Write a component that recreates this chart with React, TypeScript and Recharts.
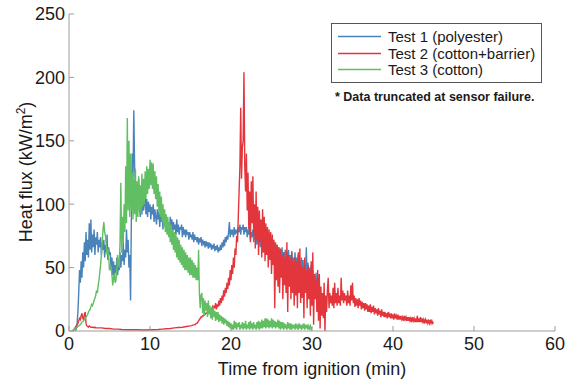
import React from 'react';
import { LineChart, Line, XAxis, YAxis, Legend } from 'recharts';

// ---------- data ----------
const xTicks = [0, 10, 20, 30, 40, 50, 60];
const yTicks = [0, 50, 100, 150, 200, 250];
const seriesNames = ['Test 1 (polyester)', 'Test 2 (cotton+barrier)', 'Test 3 (cotton)'];
const footnote = '* Data truncated at sensor failure.';
const xTitle = 'Time from ignition (min)';

// Test 1 (polyester): readings every 0.1 min from 0.8 min
const test1Start = 0.8;
const test1Step = 0.1;
const test1Values = [
  0, 2, 6, 15, 30, 48, 38, 55, 42, 62,
  50, 70, 55, 78, 60, 72, 58, 85, 64, 88,
  62, 76, 66, 80, 60, 74, 68, 78, 62, 72,
  66, 74, 60, 70, 64, 72, 58, 68, 62, 76,
  56, 66, 60, 62, 48, 58, 44, 55, 40, 52,
  46, 58, 44, 52, 48, 62, 50, 60, 55, 70,
  52, 64, 58, 80, 62, 72, 50, 60, 24, 90,
  140, 120, 174, 130, 110, 100, 95, 105, 120, 98,
  90, 104, 92, 106, 95, 100, 108, 92, 104, 90,
  102, 94, 100, 88, 98, 92, 100, 86, 96, 90,
  84, 96, 88, 94, 82, 92, 86, 94, 80, 90,
  84, 92, 80, 88, 82, 86, 78, 90, 80, 88,
  78, 86, 80, 84, 76, 88, 78, 84, 76, 82,
  80, 84, 74, 82, 76, 80, 74, 80, 76, 78,
  72, 78, 74, 76, 72, 78, 70, 76, 72, 74,
  70, 74, 68, 73, 70, 74, 67, 72, 69, 71,
  66, 71, 68, 70, 65, 70, 66, 69, 64, 68,
  65, 69, 63, 67, 64, 68, 62, 66, 63, 68,
  64, 70, 66, 72, 67, 74, 70, 75, 72, 78,
  86, 74, 80, 76, 80, 74, 82, 76, 80, 78,
  76, 82, 78, 84, 76, 82, 80, 84, 76, 82,
  78, 82, 74, 80, 76, 82, 72, 78, 74, 80,
  70, 78, 72, 76, 68, 76, 70, 74, 66, 74,
  68, 74, 62, 72, 64, 70, 60, 72, 62, 70,
  60, 70, 58, 68, 60, 70, 56, 66, 58, 68,
  55, 66, 58, 64, 54, 66, 56, 62, 52, 64,
  54, 62, 50, 64, 52, 60, 48, 63, 50, 58,
  46, 62, 48, 58, 44, 60, 46, 56, 42, 58,
  44, 56, 40, 52, 42, 66, 38, 54, 40, 50,
  36, 52, 34, 48, 30, 44, 32, 46, 28, 42,
];

// Test 2 (cotton+barrier)
const test2StartA = 0.4;
const test2StepA = 0.1;
const test2ValuesA = [
  0, 0.5, 1, 2, 3, 4, 5, 6, 8, 10,
  9, 12, 14, 10, 9, 13, 15, 6, 4, 3.5,
  3, 4, 3.5, 3, 3, 3, 3, 2.5, 3, 2.5,
];
const test2StartB = 3.5;
const test2StepB = 0.5;
const test2ValuesB = [2.5, 2.5, 2, 2, 1.5, 1.5, 1.2, 1, 1, 1, 1, 0.8, 0.8, 1, 1, 1.2, 1.5, 1.8, 2, 2.5, 2.8, 3, 3.5, 4, 5];
const test2StartC = 15.6;
const test2StepC = 0.1;
const test2ValuesC = [
  5, 6, 6, 7, 8, 9, 10, 11, 11, 12,
  12, 13, 13, 14, 14, 15, 15, 16, 16, 17,
  17, 19, 16, 20, 18, 22, 17, 21, 19, 24,
  20, 26, 22, 28, 24, 32, 27, 34, 30, 38,
  33, 42, 36, 48, 40, 52, 45, 58, 50, 65,
  60, 75, 70, 90,
  110, 130, 176, 120, 145, 150, 204, 130, 110, 140,
  95, 125, 80, 110, 70, 118, 85, 122, 75, 100,
  65, 110, 72, 98, 60, 95, 70, 88, 58, 96,
  62, 90, 55, 85, 60, 82, 50, 80, 56, 78,
  45, 76, 52, 72, 18, 70, 40, 68, 35, 66,
  30, 65, 42, 60, 25, 62, 36, 58, 30, 70,
  15, 60, 35, 58, 25, 62, 30, 55, 20, 58,
  28, 55, 18, 62, 30, 65, 22, 52, 26, 50,
  10, 58, 30, 48, 18, 52, 25, 48, 12, 55,
  20, 62, 5, 45, 25, 40, 15, 48, 8, 45,
  2, 35, 12, 30, 10, 38, 0, 28, 15, 32,
  42, 18, 30, 22, 28, 20, 34, 18, 38, 22,
  30, 20, 34, 22, 28, 20, 42, 24, 32, 22,
  30, 24, 28, 20, 32, 22, 28, 20, 36, 24,
  38, 22, 28, 19, 26, 20, 25, 18, 26, 20,
  24, 17, 23, 18, 22, 16, 22, 17, 21, 15,
  20, 15, 21, 14, 19, 15, 20, 13, 18, 14,
  17, 12, 18, 13, 16, 11, 17, 12, 15, 11,
  15, 11, 14, 10, 15, 11, 13, 10, 14, 10,
  13, 9, 14, 10, 12, 9, 13, 9, 12, 9,
  12, 9, 11, 8, 12, 9, 11, 8, 11, 8,
  11, 8, 10, 7, 11, 8, 10, 7, 10, 7,
  12, 7, 10, 7, 11, 7, 10, 6, 9, 7,
  9, 6, 9, 6, 8, 6, 9, 6, 8, 6,
  7,
];

// Test 3 (cotton): readings every 0.1 min from 0.4 min
const test3Start = 0.4;
const test3Step = 0.1;
const test3Values = [
  0, 0.5, 1, 1.5, 2, 2.5, 3, 3.5, 4, 4.5,
  5, 6, 7, 7.5, 8, 9, 10, 11, 12, 13,
  15, 16, 17, 19, 21, 20, 22, 24, 26, 28,
  32, 30, 36, 40, 46, 52, 60, 70, 80, 86,
  78, 75, 68, 60, 65, 58, 48, 52, 50, 44,
  36, 42, 45, 38, 40, 48, 60, 54, 50, 70,
  117, 62, 90, 70, 100, 78, 130, 85, 168, 95,
  150, 90, 140, 95, 125, 88, 120, 92, 128, 86,
  118, 90, 122, 95, 115, 92, 124, 98, 120, 100,
  126, 104, 130, 108, 128, 112, 135, 115, 133, 112,
  132, 108, 126, 104, 122, 98, 116, 94, 110, 90,
  106, 86, 100, 82, 96, 78, 92, 76, 90, 74,
  86, 70, 84, 68, 80, 64, 78, 62, 76, 58,
  74, 56, 72, 54, 68, 52, 66, 50, 64, 48,
  62, 48, 60, 46, 58, 44, 58, 44, 56, 42,
  54, 42, 52, 40, 50, 40, 64, 30, 18, 28,
  30, 14, 26, 12, 24, 16, 22, 11, 24, 13,
  20, 10, 18, 9, 19, 11, 16, 8, 15, 9,
  15, 7, 13, 8, 12, 6, 11, 5, 10, 6,
  9, 4, 8, 3, 7, 2, 6, 1, 5, 1,
  8, 2, 7, 1, 6, 3, 7, 1, 5, 2,
  7, 1, 6, 2, 8, 1, 5, 2, 7, 1,
  8, 2, 6, 1, 7, 2, 5, 1, 7, 2,
  8, 1, 7, 2, 9, 2, 8, 3, 10, 2,
  10, 3, 9, 2, 8, 3, 10, 2, 9, 3,
  8, 2, 7, 3, 9, 2, 8, 1, 7, 2,
  7, 1, 6, 2, 5, 1, 7, 2, 6, 1,
  6, 1, 5, 2, 5, 1, 6, 2, 4, 1,
  6, 2, 5, 1, 4, 2, 6, 1, 5, 2,
  5, 1, 4, 2, 4, 1, 3,
];

type Pt = { t: number; v: number };
const seg = (start: number, step: number, values: number[]): Pt[] =>
  values.map((v, i) => ({ t: Math.round((start + i * step) * 100) / 100, v }));

const test1Data = seg(test1Start, test1Step, test1Values);
const test2Data = [
  ...seg(test2StartA, test2StepA, test2ValuesA),
  ...seg(test2StartB, test2StepB, test2ValuesB),
  ...seg(test2StartC, test2StepC, test2ValuesC),
];
const test3Data = seg(test3Start, test3Step, test3Values);

// ---------- style ----------
const FONT = '"Liberation Sans", Arial, Helvetica, sans-serif';
const COLORS = ['#4a82ba', '#e3363c', '#62be62'];
const AXIS = '#9c9c9c';
const TEXT = '#1a1a1a';
const W = 570;
const H = 383;
const PL = 69, PR = 555, PT = 14, PB = 331;
const TK = 5;
const SW = 1.4;

const BottomTick = (p: any) => (
  <g>
    <line x1={p.x} x2={p.x} y1={PB} y2={PB - TK} stroke={AXIS} />
    <text x={p.x} y={350} textAnchor="middle" fontSize={18} fill={TEXT} fontFamily={FONT}>
      {p.payload.value}
    </text>
  </g>
);
const TopTick = (p: any) => (
  <line x1={p.x} x2={p.x} y1={PT} y2={PT + TK} stroke={AXIS} />
);
const LeftTick = (p: any) => (
  <g>
    <line x1={PL} x2={PL + TK} y1={p.y} y2={p.y} stroke={AXIS} />
    <text x={65} y={p.y} dy="0.35em" textAnchor="end" fontSize={18} fill={TEXT} fontFamily={FONT}>
      {p.payload.value}
    </text>
  </g>
);
const RightTick = (p: any) => (
  <line x1={PR} x2={PR - TK} y1={p.y} y2={p.y} stroke={AXIS} />
);

const XTitle = () => (
  <text x={(PL + PR) / 2} y={375} textAnchor="middle" fontSize={18} fill={TEXT} fontFamily={FONT}>
    {xTitle}
  </text>
);
const YTitle = () => (
  <text
    x={32}
    y={172}
    transform="rotate(-90, 32, 172)"
    textAnchor="middle"
    fontSize={18}
    fill={TEXT}
    fontFamily={FONT}
  >
    Heat flux (kW/m
    <tspan dy={-7} fontSize={12}>2</tspan>
    <tspan dy={7}>)</tspan>
  </text>
);

const LegendBox = () => (
  <div style={{ position: 'relative', width: 215, height: 85, fontFamily: FONT, color: TEXT }}>
    <div
      style={{
        position: 'absolute',
        left: 0,
        top: 0,
        width: 211,
        height: 60,
        boxSizing: 'border-box',
        border: '1px solid #555',
        background: '#fff',
      }}
    >
      {seriesNames.map((name, i) => (
        <div
          key={name}
          style={{ position: 'absolute', left: 0, top: 4 + i * 16.5, height: 17, display: 'flex', alignItems: 'center' }}
        >
          <svg width={56} height={17} style={{ display: 'block' }}>
            <line x1={6} x2={49} y1={8.5} y2={8.5} stroke={COLORS[i]} strokeWidth={1.3} />
          </svg>
          <span style={{ fontSize: 15, lineHeight: '17px', whiteSpace: 'nowrap' }}>{name}</span>
        </div>
      ))}
    </div>
    <div
      style={{
        position: 'absolute',
        left: 4,
        top: 66,
        fontSize: 12.5,
        fontWeight: 'bold',
        lineHeight: '16px',
        whiteSpace: 'nowrap',
      }}
    >
      {footnote}
    </div>
  </div>
);

export default function App() {
  return (
    <div style={{ position: 'absolute', left: 0, top: 0, width: W, height: H, background: '#fff', fontFamily: FONT }}>
      <LineChart width={W} height={H} margin={{ top: PT, right: W - PR, left: PL - 50, bottom: H - PB - 30 }}>
        <XAxis
          dataKey="t"
          type="number"
          domain={[0, 60]}
          ticks={xTicks}
          interval={0}
          height={30}
          stroke={AXIS}
          tickLine={false}
          tick={BottomTick}
          allowDataOverflow
          label={XTitle}
        />
        <XAxis
          xAxisId="top"
          orientation="top"
          dataKey="t"
          type="number"
          domain={[0, 60]}
          ticks={xTicks}
          interval={0}
          height={0}
          stroke={AXIS}
          tickLine={false}
          tick={TopTick}
          allowDataOverflow
        />
        <YAxis
          type="number"
          domain={[0, 250]}
          ticks={yTicks}
          interval={0}
          width={50}
          stroke={AXIS}
          tickLine={false}
          tick={LeftTick}
          allowDataOverflow
          label={YTitle}
        />
        <YAxis
          yAxisId="right"
          orientation="right"
          type="number"
          domain={[0, 250]}
          ticks={yTicks}
          interval={0}
          width={0}
          stroke={AXIS}
          tickLine={false}
          tick={RightTick}
          allowDataOverflow
        />
        <Legend
          layout="vertical"
          align="center"
          verticalAlign="middle"
          content={LegendBox}
          wrapperStyle={{ position: 'absolute', left: 331, top: 23, width: 215, height: 85 }}
        />
        <Line data={test1Data} dataKey="v" name={seriesNames[0]} stroke={COLORS[0]} strokeWidth={SW} dot={false} isAnimationActive={false} />
        <Line data={test2Data} dataKey="v" name={seriesNames[1]} stroke={COLORS[1]} strokeWidth={SW} dot={false} isAnimationActive={false} />
        <Line data={test3Data} dataKey="v" name={seriesNames[2]} stroke={COLORS[2]} strokeWidth={SW} dot={false} isAnimationActive={false} />
      </LineChart>
    </div>
  );
}
